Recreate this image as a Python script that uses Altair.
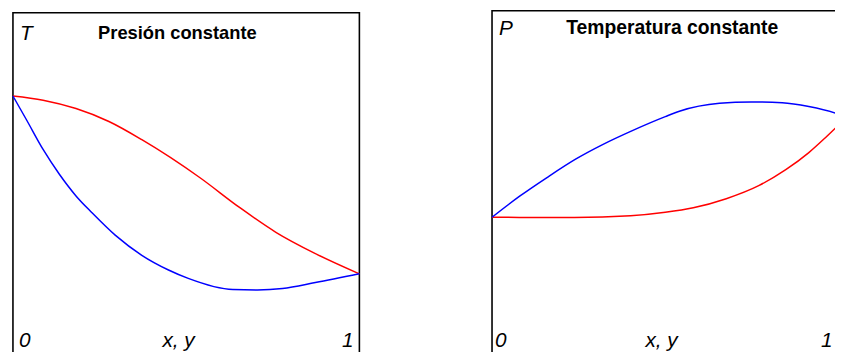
import altair as alt
import pandas as pd

# ---------------- data (fractions of the panel) ----------------
# Left panel: T vs x, y at constant pressure
left_vap_x = [0.0, 0.087, 0.182, 0.277, 0.372, 0.540, 0.654, 0.759, 0.873, 1.0]
left_vap_T = [0.756, 0.744, 0.720, 0.683, 0.631, 0.522, 0.437, 0.366, 0.305, 0.247]
left_liq_x = [0.0, 0.039, 0.087, 0.134, 0.182, 0.229, 0.296, 0.372, 0.449, 0.506, 0.635, 0.706, 0.778, 0.873, 1.0]
left_liq_T = [0.756, 0.688, 0.603, 0.532, 0.470, 0.421, 0.357, 0.300, 0.258, 0.234, 0.202, 0.201, 0.205, 0.222, 0.247]

# Right panel: P vs x, y at constant temperature
right_liq_x = [0.0, 0.079, 0.154, 0.237, 0.312, 0.396, 0.489, 0.531, 0.642, 0.731, 0.819, 0.894, 0.986, 1.0]
right_liq_P = [0.409, 0.470, 0.522, 0.576, 0.617, 0.657, 0.697, 0.713, 0.735, 0.739, 0.737, 0.726, 0.701, 0.695]
right_vap_x = [0.0, 0.232, 0.391, 0.489, 0.568, 0.661, 0.754, 0.829, 0.894, 0.940, 0.986, 1.0]
right_vap_P = [0.409, 0.408, 0.413, 0.423, 0.436, 0.462, 0.500, 0.545, 0.594, 0.636, 0.681, 0.695]

series_names = ["vapor", "líquido"]
series_colors = ["#ff0000", "#0000ff"]

left_texts = ["T", "Presión constante", "0", "x, y", "1"]
right_texts = ["P", "Temperatura constante", "0", "x, y", "1"]


def frame(x_vals, y_vals, name):
    return pd.DataFrame({"x": x_vals, "v": y_vals, "fase": name})


left_df = pd.concat([frame(left_vap_x, left_vap_T, series_names[0]),
                     frame(left_liq_x, left_liq_T, series_names[1])])
right_df = pd.concat([frame(right_vap_x, right_vap_P, series_names[0]),
                      frame(right_liq_x, right_liq_P, series_names[1])])

H = 353
ONE = alt.Data(values=[{"k": 0}])
FONT = "Liberation Sans"


def label(txt, x, y, size, style="italic", weight="normal", align="left"):
    return alt.Chart(ONE).mark_text(
        font=FONT, fontSize=size, fontStyle=style, fontWeight=weight,
        align=align, baseline="alphabetic", color="black"
    ).encode(x=alt.value(x), y=alt.value(y), text=alt.value(txt))


def panel(df, w, frame_top, texts, title_x, title_y, title_size, sym_y, zero_x, xy_x, one_x):
    box = alt.Chart(ONE).mark_rect(fillOpacity=0, stroke="black", strokeWidth=1.6).encode(
        x=alt.value(0), x2=alt.value(w), y=alt.value(frame_top), y2=alt.value(H)
    )
    lines = alt.Chart(df).mark_line(interpolate="monotone", strokeWidth=1.5).encode(
        x=alt.X("x:Q", scale=alt.Scale(domain=[0, 1], nice=False, zero=False), axis=None),
        y=alt.Y("v:Q", scale=alt.Scale(domain=[0, 1], nice=False, zero=False), axis=None),
        color=alt.Color("fase:N", scale=alt.Scale(domain=series_names, range=series_colors), legend=None),
    )
    layers = [
        box,
        lines,
        label(texts[0], 7, sym_y, 21),
        label(texts[1], title_x, title_y, title_size, style="normal", weight="bold"),
        label(texts[2], zero_x, 340, 21),
        label(texts[3], xy_x, 340, 21),
        label(texts[4], one_x, 340, 21, align="right"),
    ]
    return alt.layer(*layers).properties(width=w, height=H)


left = panel(left_df, 350, 2, left_texts, 86, 29, 18.5, 30, 6, 151, 344)
right = panel(right_df, 358, 0, right_texts, 75, 24, 19.5, 25, 3, 155, 344)

# negative right/bottom padding crops the panels at the page edge, as in the original picture
chart = alt.hconcat(left, right, spacing=128).properties(
    padding={"left": 2, "top": 0, "right": -14.5, "bottom": -11}
).configure_view(stroke=None)

chart.save("out.html", embed_options={"renderer": "svg", "actions": False})
